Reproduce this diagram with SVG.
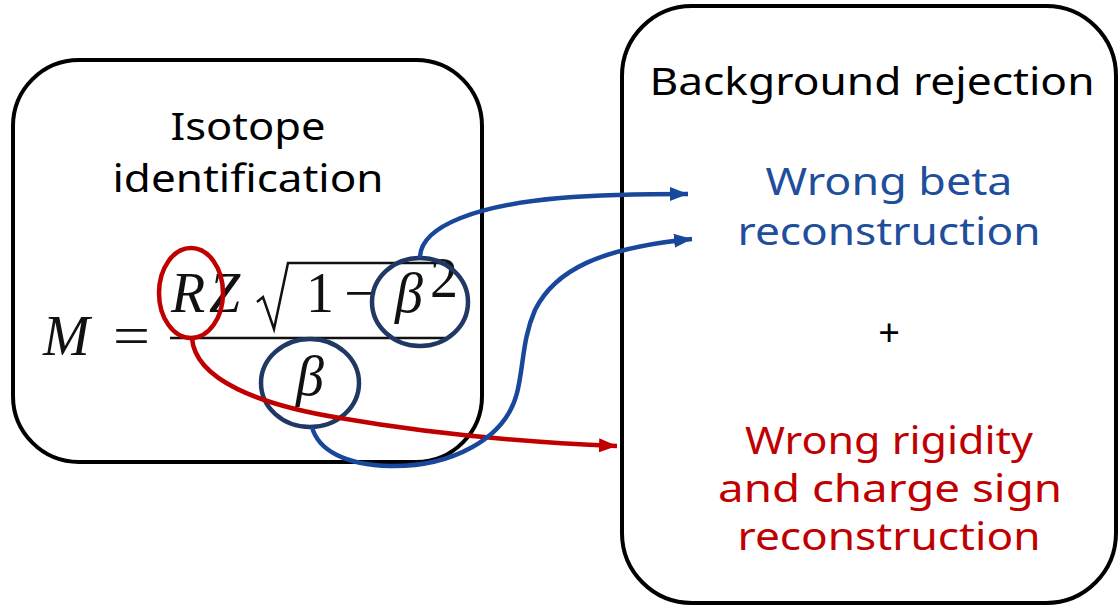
<svg xmlns="http://www.w3.org/2000/svg" width="1119" height="606" viewBox="0 0 1119 606">
<style>
.box{fill:#fff;stroke:#000;stroke-width:4}
.lbl{font-family:"Noto Sans","Open Sans",sans-serif;font-size:38px;text-anchor:middle}
.math{font-family:"Liberation Serif","DejaVu Serif",serif;font-size:56px;fill:#111}
.it{font-style:italic}
.blue{fill:#1F4E9C}
.red{fill:#C00000}
.conn{fill:none;stroke-width:4.5}
.ring{fill:none;stroke-width:4.5}
</style>
<defs>
<marker id="ab" markerUnits="userSpaceOnUse" markerWidth="20" markerHeight="16" refX="18" refY="8" orient="auto">
<path d="M0,1 L18,8 L0,15 Z" fill="#19479B"/>
</marker>
<marker id="ar" markerUnits="userSpaceOnUse" markerWidth="20" markerHeight="16" refX="18" refY="8" orient="auto">
<path d="M0,1 L18,8 L0,15 Z" fill="#C00000"/>
</marker>
</defs>
<g id="isotope">
<rect class="box" x="13" y="60" width="469" height="402" rx="66" ry="66"/>
<text class="lbl" x="248" y="140" textLength="155" lengthAdjust="spacingAndGlyphs">Isotope</text>
<text class="lbl" x="248" y="192" textLength="271" lengthAdjust="spacingAndGlyphs">identification</text>
<g id="formula">
<text class="math it" x="43" y="355">M</text>
<text class="math" x="113" y="355" textLength="37" lengthAdjust="spacingAndGlyphs">=</text>
<line x1="170" y1="338" x2="448" y2="338" stroke="#111" stroke-width="2.5"/>
<text class="math it" x="171" y="312">R</text>
<text class="math it" x="209" y="312">Z</text>
<path d="M257,302 L263,297 L274,329 L288,263 L450,263" fill="none" stroke="#111" stroke-width="2.5" stroke-linejoin="miter"/>
<text class="math" x="306" y="312">1</text>
<text class="math" x="344" y="312" textLength="34" lengthAdjust="spacingAndGlyphs">−</text>
<text class="math it" x="395" y="312">β</text>
<text class="math" x="430" y="297" font-size="28">2</text>
<text class="math it" x="296" y="395">β</text>
</g>
<ellipse class="ring" cx="191" cy="293" rx="32" ry="45" stroke="#C00000"/>
<ellipse class="ring" cx="420" cy="302" rx="48" ry="44" stroke="#203864"/>
<ellipse class="ring" cx="310" cy="383" rx="49" ry="44" stroke="#203864"/>
</g>
<g id="background">
<rect class="box" x="622" y="6" width="494" height="597" rx="70" ry="70"/>
<text class="lbl" x="872" y="95" textLength="445" lengthAdjust="spacingAndGlyphs">Background rejection</text>
<text class="lbl blue" x="889" y="195" textLength="247" lengthAdjust="spacingAndGlyphs">Wrong beta</text>
<text class="lbl blue" x="889" y="245" textLength="303" lengthAdjust="spacingAndGlyphs">reconstruction</text>
<text class="lbl" x="889" y="346">+</text>
<text class="lbl red" x="889" y="454" textLength="288" lengthAdjust="spacingAndGlyphs">Wrong rigidity</text>
<text class="lbl red" x="890" y="502" textLength="344" lengthAdjust="spacingAndGlyphs">and charge sign</text>
<text class="lbl red" x="889" y="550" textLength="303" lengthAdjust="spacingAndGlyphs">reconstruction</text>
</g>
<g id="connectors">
<path class="conn" stroke="#C00000" marker-end="url(#ar)" d="M192,338 C195,380 260,405 340,418 C420,432 520,442 617,446"/>
<path class="conn" stroke="#19479B" marker-end="url(#ab)" d="M420,258 C420,225 480,205 560,198 C610,194 650,194 688,194"/>
<path class="conn" stroke="#19479B" marker-end="url(#ab)" d="M312,427 C318,450 345,465 390,466 C450,467 505,440 517,393 C524,365 522,340 535,310 C555,270 600,248 692,239"/>
</g>
</svg>
